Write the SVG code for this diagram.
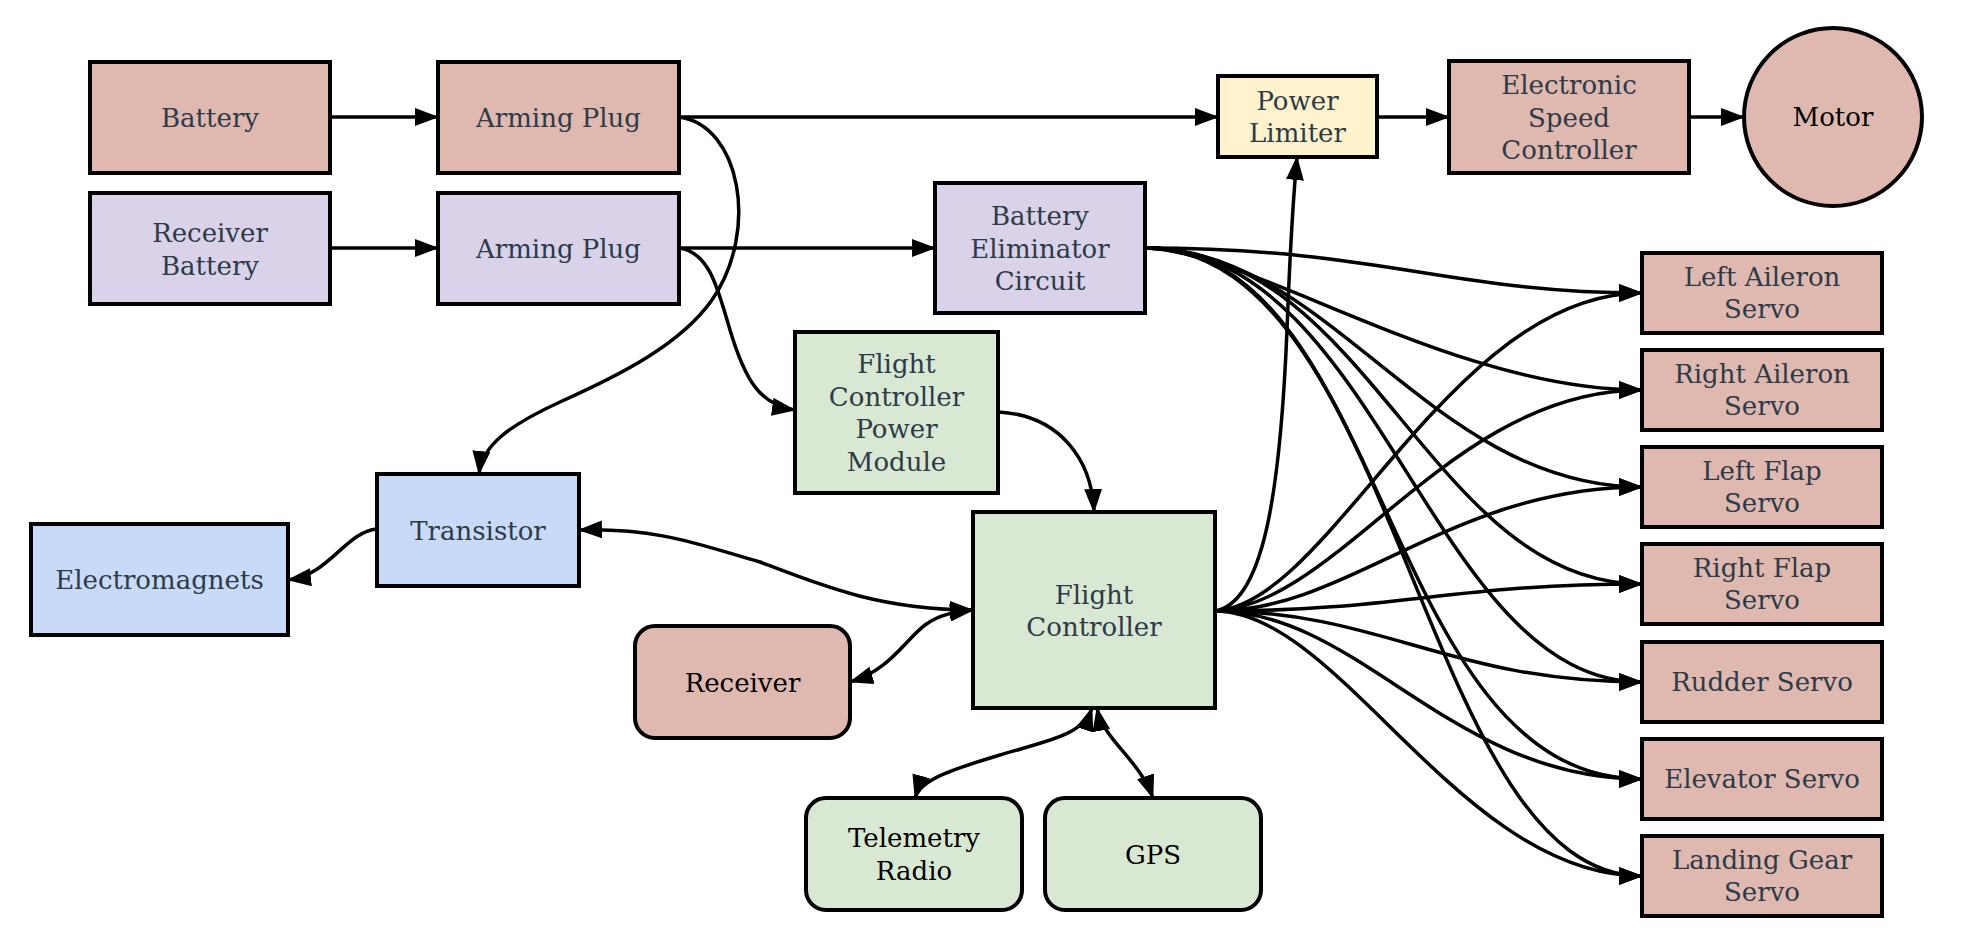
<svg xmlns="http://www.w3.org/2000/svg" width="1974" height="942" viewBox="0 0 1974 942">
<defs>
<style>
.n{stroke:#000;stroke-width:4}
.pink{fill:#dfb9b0}
.lav{fill:#d9d2e9}
.grn{fill:#d9e8d3}
.blu{fill:#c9daf8}
.yel{fill:#fff2cc}
text{font-family:"DejaVu Serif","Liberation Serif",serif;font-size:26px;fill:#2d3a48;text-anchor:middle}
text.k{fill:#000}
.c path{fill:none;stroke:#000;stroke-width:3.5}
</style>
<marker id="ah" markerUnits="userSpaceOnUse" markerWidth="24" markerHeight="18" refX="23" refY="9" orient="auto-start-reverse">
<path d="M0,0 L24,9 L0,18 z" fill="#000"/>
</marker>
</defs>
<rect width="1974" height="942" fill="#fff"/>

<g id="connectors" class="c">
<path d="M330,117 L438,117" marker-end="url(#ah)"/>
<path d="M679,117 L1218,117" marker-end="url(#ah)"/>
<path d="M1377,117 L1449,117" marker-end="url(#ah)"/>
<path d="M1689,117 L1744,117" marker-end="url(#ah)"/>
<path d="M330,248 L438,248" marker-end="url(#ah)"/>
<path d="M679,248 L935,248" marker-end="url(#ah)"/>
<path d="M679,117 C740,125 760,230 712,300 C680,345 620,375 560,402 C510,425 482,445 479,474" marker-end="url(#ah)"/>
<path d="M679,248 C710,252 718,290 730,330 C745,380 760,405 795,410" marker-end="url(#ah)"/>
<path d="M998,412 C1060,415 1092,460 1094,512" marker-end="url(#ah)"/>
<path d="M377,529 C345,532 330,575 288,580" marker-end="url(#ah)"/>
<path d="M973,610 C880,610 820,585 760,562 C700,545 660,528 579,530" marker-start="url(#ah)" marker-end="url(#ah)"/>
<path d="M850,682 C890,670 905,640 925,625 C940,614 955,612 973,610" marker-start="url(#ah)" marker-end="url(#ah)"/>
<path d="M1092,708 C1083,735 1050,740 1000,755 C950,770 920,780 915,798" marker-start="url(#ah)" marker-end="url(#ah)"/>
<path d="M1097,708 C1103,740 1140,760 1153,798" marker-start="url(#ah)" marker-end="url(#ah)"/>
<path d="M1215,611 C1262,603 1280,500 1287,330 C1290,250 1293,200 1297,157" marker-end="url(#ah)"/>
<path d="M1145,248 C1380,248 1450,293 1642,293" marker-end="url(#ah)"/>
<path d="M1145,248 C1250,250 1450,390 1642,390" marker-end="url(#ah)"/>
<path d="M1145,248 C1330,248 1430,487 1642,487" marker-end="url(#ah)"/>
<path d="M1145,248 C1370,248 1430,584 1642,584" marker-end="url(#ah)"/>
<path d="M1145,248 C1380,248 1430,682 1642,682" marker-end="url(#ah)"/>
<path d="M1145,248 C1390,248 1380,779 1642,779" marker-end="url(#ah)"/>
<path d="M1145,248 C1400,248 1420,876 1642,876" marker-end="url(#ah)"/>
<path d="M1215,611 C1330,605 1450,293 1642,293" marker-end="url(#ah)"/>
<path d="M1215,611 C1340,605 1450,390 1642,390" marker-end="url(#ah)"/>
<path d="M1215,611 C1350,611 1450,487 1642,487" marker-end="url(#ah)"/>
<path d="M1215,611 C1400,611 1450,584 1642,584" marker-end="url(#ah)"/>
<path d="M1215,611 C1380,611 1450,682 1642,682" marker-end="url(#ah)"/>
<path d="M1215,611 C1360,611 1450,779 1642,779" marker-end="url(#ah)"/>
<path d="M1215,611 C1340,611 1460,876 1642,876" marker-end="url(#ah)"/>
</g>

<g id="battery"><rect class="n pink" x="90" y="62" width="240" height="111"/><text x="210" y="127">Battery</text></g>
<g id="arming-plug-1"><rect class="n pink" x="438" y="62" width="241" height="111"/><text x="558.5" y="127">Arming Plug</text></g>
<g id="receiver-battery"><rect class="n lav" x="90" y="193" width="240" height="111"/><text x="210" y="242">Receiver</text><text x="210" y="275">Battery</text></g>
<g id="arming-plug-2"><rect class="n lav" x="438" y="193" width="241" height="111"/><text x="558.5" y="258">Arming Plug</text></g>
<g id="power-limiter"><rect class="n yel" x="1218" y="76" width="159" height="81"/><text x="1297.5" y="110">Power</text><text x="1297.5" y="142">Limiter</text></g>
<g id="esc"><rect class="n pink" x="1449" y="61" width="240" height="112"/><text x="1569" y="94">Electronic</text><text x="1569" y="126.5">Speed</text><text x="1569" y="159">Controller</text></g>
<g id="motor"><circle class="n pink" cx="1833" cy="117" r="89"/><text class="k" x="1833" y="126">Motor</text></g>
<g id="bec"><rect class="n lav" x="935" y="183" width="210" height="130"/><text x="1040" y="225">Battery</text><text x="1040" y="257.5">Eliminator</text><text x="1040" y="290">Circuit</text></g>
<g id="fc-power-module"><rect class="n grn" x="795" y="332" width="203" height="161"/><text x="896.5" y="373">Flight</text><text x="896.5" y="405.5">Controller</text><text x="896.5" y="438">Power</text><text x="896.5" y="470.5">Module</text></g>
<g id="transistor"><rect class="n blu" x="377" y="474" width="202" height="112"/><text x="478" y="539.5">Transistor</text></g>
<g id="electromagnets"><rect class="n blu" x="31" y="524" width="257" height="111"/><text x="159.5" y="589">Electromagnets</text></g>
<g id="flight-controller"><rect class="n grn" x="973" y="512" width="242" height="196"/><text x="1094" y="603.5">Flight</text><text x="1094" y="636">Controller</text></g>
<g id="receiver"><rect class="n pink" x="635" y="626" width="215" height="112" rx="20"/><text class="k" x="742.5" y="691.5">Receiver</text></g>
<g id="telemetry-radio"><rect class="n grn" x="806" y="798" width="216" height="112" rx="20"/><text class="k" x="914" y="847">Telemetry</text><text class="k" x="914" y="879.5">Radio</text></g>
<g id="gps"><rect class="n grn" x="1045" y="798" width="216" height="112" rx="20"/><text class="k" x="1153" y="863.5">GPS</text></g>
<g id="left-aileron-servo"><rect class="n pink" x="1642" y="253" width="240" height="80"/><text x="1762" y="286">Left Aileron</text><text x="1762" y="318">Servo</text></g>
<g id="right-aileron-servo"><rect class="n pink" x="1642" y="350" width="240" height="80"/><text x="1762" y="383">Right Aileron</text><text x="1762" y="415">Servo</text></g>
<g id="left-flap-servo"><rect class="n pink" x="1642" y="447" width="240" height="80"/><text x="1762" y="480">Left Flap</text><text x="1762" y="512">Servo</text></g>
<g id="right-flap-servo"><rect class="n pink" x="1642" y="544" width="240" height="80"/><text x="1762" y="577">Right Flap</text><text x="1762" y="609">Servo</text></g>
<g id="rudder-servo"><rect class="n pink" x="1642" y="642" width="240" height="80"/><text x="1762" y="691">Rudder Servo</text></g>
<g id="elevator-servo"><rect class="n pink" x="1642" y="739" width="240" height="80"/><text x="1762" y="788">Elevator Servo</text></g>
<g id="landing-gear-servo"><rect class="n pink" x="1642" y="836" width="240" height="80"/><text x="1762" y="869">Landing Gear</text><text x="1762" y="901">Servo</text></g>
</svg>
